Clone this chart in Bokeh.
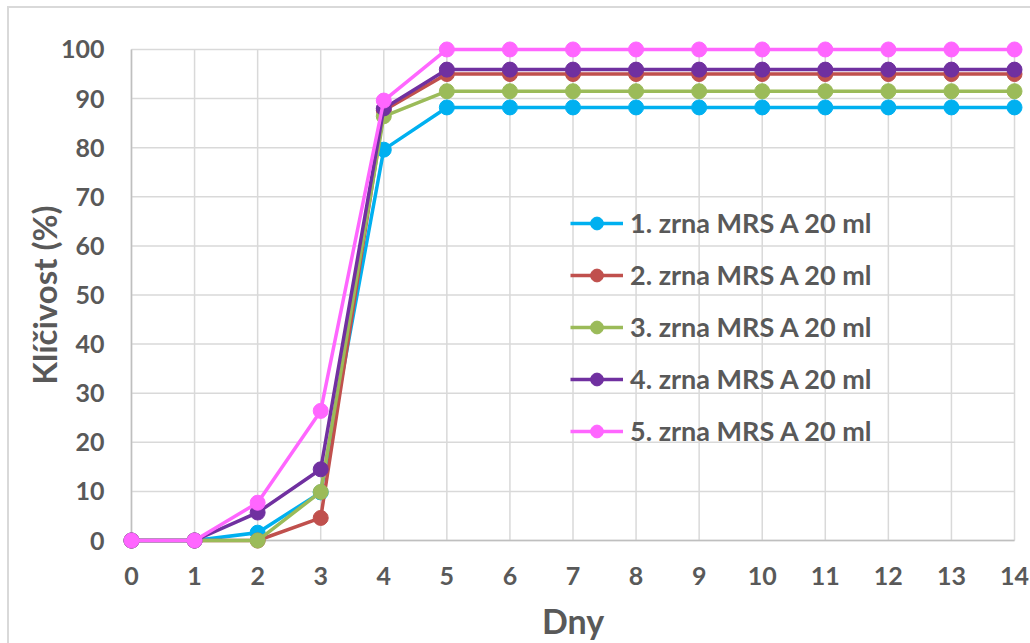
from bokeh.plotting import figure
from bokeh.models import Range1d, FixedTicker, Legend, LegendItem
from bokeh.embed import file_html
from bokeh.resources import INLINE

days = list(range(15))
s1 = [0, 0, 1.6, 9.8, 79.6] + [88.2] * 10
s2 = [0, 0, 0, 4.6, 87.6] + [95.0] * 10
s3 = [0, 0, 0, 9.9, 86.4] + [91.5] * 10
s4 = [0, 0, 5.7, 14.5, 88.0] + [95.9] * 10
s5 = [0, 0, 7.7, 26.4, 89.6] + [100.0] * 10
names = ["1. zrna MRS A 20 ml", "2. zrna MRS A 20 ml", "3. zrna MRS A 20 ml",
         "4. zrna MRS A 20 ml", "5. zrna MRS A 20 ml"]
colors = ["#00B0F0", "#C0504D", "#9BBB59", "#7030A0", "#FF66FF"]
x_ticks = list(range(15))
y_ticks = list(range(0, 101, 10))

FONT = "Lato"
TXT = "#595959"

p = figure(width=1030, height=643, output_backend="svg", toolbar_location=None,
           x_range=Range1d(-0.206, 14.206), y_range=Range1d(-2.44, 102.44),
           min_border_left=118, min_border_right=3, min_border_top=37, min_border_bottom=90)
p.outline_line_color = None
p.xgrid.visible = False
p.ygrid.visible = False
p.border_fill_color = None
p.background_fill_color = "white"
p.styles = {
    "background": "linear-gradient(#D9D9D9,#D9D9D9) 7px 6px / 2px 100% no-repeat, "
                  "linear-gradient(#D9D9D9,#D9D9D9) 7px 6px / 100% 2px no-repeat, white"
}

# gridlines
p.segment(x0=x_ticks, y0=[0] * len(x_ticks), x1=x_ticks, y1=[100] * len(x_ticks),
          line_color="#D9D9D9", line_width=1.5)
p.segment(x0=[0] * len(y_ticks), y0=y_ticks, x1=[14] * len(y_ticks), y1=y_ticks,
          line_color="#D9D9D9", line_width=1.5)
# axis lines
p.segment(x0=[0], y0=[0], x1=[14], y1=[0], line_color="#BFBFBF", line_width=1.5)
p.segment(x0=[0], y0=[0], x1=[0], y1=[100], line_color="#BFBFBF", line_width=1.5)

items = []
for s, c, n in zip([s1, s2, s3, s4, s5], colors, names):
    l = p.line(days, s, line_color=c, line_width=3.5)
    m = p.scatter(days, s, size=15, fill_color=c, line_color=c)
    items.append(LegendItem(label=n, renderers=[l, m]))

for ax in (p.xaxis[0], p.yaxis[0]):
    ax.axis_line_color = None
    ax.major_tick_line_color = None
    ax.minor_tick_line_color = None
    ax.major_tick_out = 0
    ax.major_label_text_font = FONT
    ax.major_label_text_font_style = "bold"
    ax.major_label_text_font_size = "25px"
    ax.major_label_text_color = TXT
    ax.axis_label_text_font = FONT
    ax.axis_label_text_font_style = "bold"
    ax.axis_label_text_color = TXT

p.xaxis[0].ticker = FixedTicker(ticks=x_ticks)
p.yaxis[0].ticker = FixedTicker(ticks=y_ticks)
p.xaxis[0].major_label_standoff = 14
p.yaxis[0].major_label_standoff = 14
p.xaxis[0].axis_label = "Dny"
p.yaxis[0].axis_label = "Klíčivost (%)"
p.xaxis[0].axis_label_text_font_size = "34px"
p.yaxis[0].axis_label_text_font_size = "33px"
p.xaxis[0].axis_label_standoff = 12
p.yaxis[0].axis_label_standoff = -6

legend = Legend(items=items, location=(452, 105), orientation="vertical",
                label_text_font=FONT, label_text_font_style="bold",
                label_text_font_size="27px", label_text_color=TXT,
                glyph_width=53, glyph_height=32, label_height=32,
                label_standoff=7, spacing=19, padding=0, margin=0,
                border_line_color=None, background_fill_alpha=0)
p.add_layout(legend)

open("out.html", "w").write(file_html(p, INLINE))
